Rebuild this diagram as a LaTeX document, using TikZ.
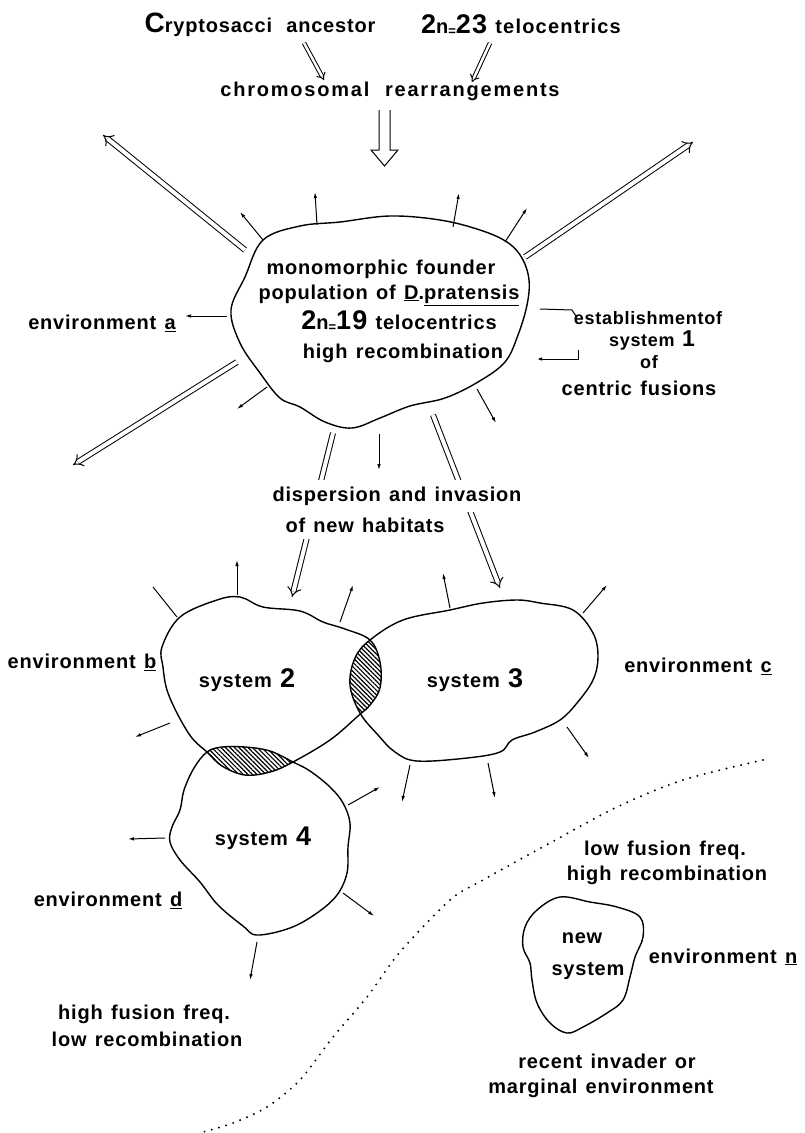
\documentclass[tikz,border=0pt]{standalone}
\usepackage{fontspec}
\setmainfont{Liberation Sans}[LetterSpace=4,WordSpace=1.3]
\usetikzlibrary{arrows.meta, patterns.meta, calc}

\newcommand{\bigd}[1]{{\fontsize{27}{27}\selectfont #1}}
\newcommand{\smeq}{\raisebox{-2pt}{\fontsize{13}{13}\selectfont =}}

% outlines of the populations
\newcommand{\founder}{plot[smooth cycle, tension=0.6] coordinates {(263,240) (300,226) (340,222) (390,216) (440,220) (480,230) (507,242) (522,258) (529,280) (527,305) (518,335) (505,362) (478,382) (445,398) (410,406) (380,418) (352,428) (325,422) (300,407) (280,398) (260,373) (240,343) (231,310) (245,277)}}
\newcommand{\systwo}{plot[smooth cycle, tension=0.6] coordinates {(162,647) (180,617) (217,600) (240,597) (263,607) (300,611) (323,622) (345,629) (370,640) (380,662) (380,688) (370,705) (358,716) (330,740) (293,762) (270,772) (245,775) (222,766) (207,752) (192,738) (178,715) (167,690) (163,667)}}
\newcommand{\systhree}{plot[smooth cycle, tension=0.6] coordinates {(370,640) (403,620) (450,610) (483,603) (517,600) (540,603) (573,610) (593,633) (598,657) (593,680) (577,703) (560,720) (535,732) (512,740) (500,752) (467,758) (417,761) (395,752) (378,735) (360,713) (350,685) (355,658)}}
\newcommand{\sysfour}{plot[smooth cycle, tension=0.6] coordinates {(207,752) (194,768) (184,790) (180,810) (172,827) (170,842) (180,860) (200,882) (218,905) (243,926) (257,935) (290,928) (317,913) (337,895) (347,873) (348,847) (350,823) (343,803) (330,787) (310,771) (293,762) (270,751) (245,747) (222,747)}}
\newcommand{\sysnew}{plot[smooth cycle, tension=0.6] coordinates {(560,897) (590,902) (617,907) (640,917) (643,937) (635,957) (630,977) (623,1000) (607,1013) (583,1027) (567,1033) (550,1023) (537,1003) (532,980) (530,963) (523,947) (525,927) (537,910)}}

\begin{document}
\begin{tikzpicture}[x=1pt, y=-1pt,
  txt/.style={font=\bfseries\fontsize{20}{22}\selectfont, inner sep=1pt},
  cut/.style={txt, fill=white, inner sep=7pt},
  ray/.style={line width=1pt, -{Latex[length=6pt,width=3.5pt]}},
  blob/.style={line width=1.4pt, line join=round},
  dbl/.style={double, double distance=4pt, line width=1pt, -{Implies}},
  hatch/.style={pattern={Lines[angle=-45,distance=3.2pt,line width=1.2pt]}}]
\useasboundingbox (0,0) rectangle (804,1133);

% ancestor
\node[txt] (anc) at (260,25) {{\fontsize{28}{28}\selectfont C}ryptosacci\hspace{6pt} ancestor};
\node[txt] (telo) at (521,25) {\bigd{2}n\smeq\bigd{23} \addfontfeature{LetterSpace=6}telocentrics};
\node[txt] (chrom) at (390,91) {\addfontfeature{LetterSpace=9}chromosomal\hspace{6pt} rearrangements};

\coordinate (a1) at (304,43);  \coordinate (a2) at (324,80);
\coordinate (b1) at (490,43);  \coordinate (b2) at (472,82);
\draw[dbl, double distance=2.5pt] (a1) -- (a2);
\draw[dbl, double distance=2.5pt] (b1) -- (b2);
\draw[line width=1pt] (379,110) -- (379,150) -- (371,150) -- (384.5,166) -- (398,150) -- (390,150) -- (390,110);

% big dispersal arrows
\coordinate (ul0) at (245,250); \coordinate (ul1) at (103,135);
\coordinate (ll0) at (237,362); \coordinate (ll1) at (73,465);
\coordinate (ur0) at (525,257); \coordinate (ur1) at (693,142);
\coordinate (dl0) at (333,433); \coordinate (dl1) at (292,597);
\coordinate (dr0) at (433,415); \coordinate (dr1) at (500,588);
\foreach \p in {ul,ll,ur,dl,dr}
  \draw[dbl] (\p0) -- (\p1);

% hatched overlaps
\begin{scope}
  \clip \systwo;
  \fill[hatch] \systhree;
  \fill[hatch] \sysfour;
\end{scope}

\draw[blob] \founder;
\draw[blob] \systwo;
\draw[blob] \systhree;
\draw[blob] \sysfour;
\draw[blob] \sysnew;

% small arrows out of each population
\foreach \xa/\ya/\xb/\yb in {317/225/315/192, 453/227/459/193, 505/242/527/208,
    263/240/240/212, 227/316/185/316, 267/387/237/409, 477/389/496/423,
    379/434/379/470, 237/595/237/560, 340/622/353/585, 170/723/135/737,
    450/608/443/573, 583/613/607/585, 567/727/589/758, 410/765/402/802,
    488/763/495/798, 165/838/128/839, 348/805/380/787, 343/893/374/916,
    257/942/250/980}
  \draw[ray] (\xa,\ya) -- (\xb,\yb);
\draw[line width=1pt] (177,617) -- (153,587);

% founder population
\node[txt] (f1) at (381,269) {monomorphic founder};
\node[txt] (f2) at (389,295) {population of \underline{D}.\underline{pratensis}};
\node[txt] (f3) at (399,321) {\bigd{2}n\smeq\bigd{19} telocentrics};
\node[txt] (f4) at (403,353) {high recombination};

\node[txt, font=\bfseries\fontsize{18}{20}\selectfont] (e1) at (648,318) {establishmentof};
\node[txt, font=\bfseries\fontsize{18}{20}\selectfont] (e2) at (652,340) {system {\fontsize{23}{23}\selectfont 1}};
\node[txt, font=\bfseries\fontsize{18}{20}\selectfont] (e3) at (649,362) {of};
\node[txt] (e4) at (639,388) {centric fusions};
\draw[line width=1pt] (540,309) -- (572,310) -- (576,316);
\draw[line width=1pt, -{Latex[length=5pt,width=3.5pt]}] (578,350) -- (578,359) -- (537,359);

\node[txt] (enva) at (102,323) {environment \underline{a}};

\node[cut] (disp) at (397,496) {dispersion and invasion};
\node[cut] (habit) at (365,525) {of new habitats};

% systems
\node[txt] (envb) at (82,662) {environment \underline{b}};
\node[txt] (s2) at (247,680) {system \bigd{2}};
\node[txt] (s3) at (475,680) {system \bigd{3}};
\node[txt] (envc) at (698,666) {environment \underline{c}};
\node[txt] (s4) at (263,838) {system \bigd{4}};
\node[txt] (envd) at (108,900) {environment \underline{d}};
\node[txt] (hf1) at (144,1014) {high fusion freq.};
\node[txt] (hf2) at (147,1039) {low recombination};

% boundary
\draw[line width=2.2pt, line cap=round, dash pattern=on 0pt off 7.5pt]
  plot[smooth] coordinates {(763,760) (683,780) (617,807) (550,843) (483,880) (450,900) (400,952) (367,997) (333,1037) (300,1080) (267,1107) (233,1123) (203,1132)};

% marginal
\node[txt] (lf1) at (665,850) {low fusion freq.};
\node[txt] (lf2) at (667,875) {high recombination};
\node[txt] (new1) at (582,938) {new};
\node[txt] (new2) at (588,971) {system};
\node[txt] (envn) at (723,957) {environment \underline{n}};
\node[txt] (rec1) at (607,1061) {recent invader or};
\node[txt] (rec2) at (601,1088) {marginal environment};
\end{tikzpicture}
\end{document}
